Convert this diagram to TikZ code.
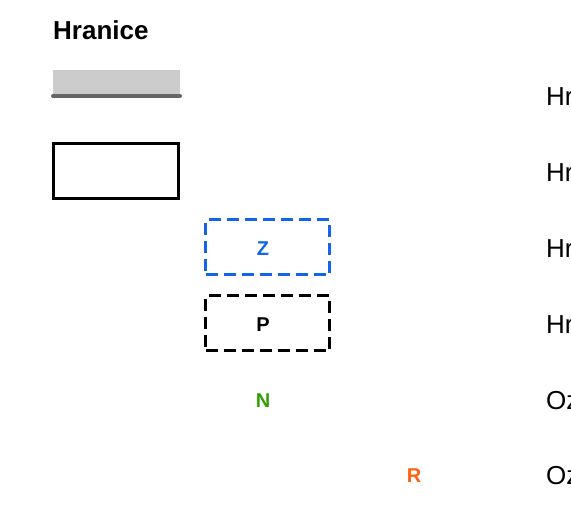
\documentclass[tikz,border=0pt]{standalone}
\usepackage{fontspec}
\setmainfont{Liberation Sans}
\definecolor{zblue}{RGB}{20,100,230}
\definecolor{ngreen}{RGB}{50,160,0}
\definecolor{rorange}{RGB}{255,96,16}
\definecolor{barfill}{RGB}{204,204,204}
\definecolor{barline}{RGB}{102,102,102}
\begin{document}
\begin{tikzpicture}[x=1pt,y=-1pt,
  title/.style={font=\fontsize{26}{30}\selectfont\bfseries, anchor=base west, inner sep=0},
  legendlabel/.style={font=\fontsize{26}{30}\selectfont, anchor=west, inner sep=0},
  letter/.style={font=\fontsize{20}{24}\selectfont\bfseries, inner sep=0},
  solidbox/.style={draw=black, line width=2.6pt, minimum width=125pt, minimum height=55pt, inner sep=0},
  dashbox/.style={line width=2.6pt, dash pattern=on 12pt off 6pt, minimum width=124pt, minimum height=55pt, inner sep=0}]
\useasboundingbox (0,0) rectangle (571,509);
\clip (0,0) rectangle (571,509);
\node[title] (t) at (53,39) {Hranice};
\fill[barfill] (53,70) rectangle (180,95);
\draw[barline, line width=4pt, line cap=round] (53,96) -- (180,96);
\node[solidbox] (b1) at (116,171) {};
\node[dashbox, draw=zblue] (b2) at (267.5,247) {};
\node[dashbox, draw=black] (b3) at (267.5,323) {};
\node[letter, text=zblue] (z) at (263,249) {Z};
\node[letter] (p) at (263,325) {P};
\node[letter, text=ngreen] (n) at (263,401) {N};
\node[letter, text=rorange] (r) at (414,476) {R};
\node[legendlabel] (l1) at (546,97) {Hr};
\node[legendlabel] (l2) at (546,173) {Hr};
\node[legendlabel] (l3) at (546,249) {Hr};
\node[legendlabel] (l4) at (546,325) {Hr};
\node[legendlabel] (l5) at (546,401) {Oz};
\node[legendlabel] (l6) at (546,476) {Oz};
\end{tikzpicture}
\end{document}
